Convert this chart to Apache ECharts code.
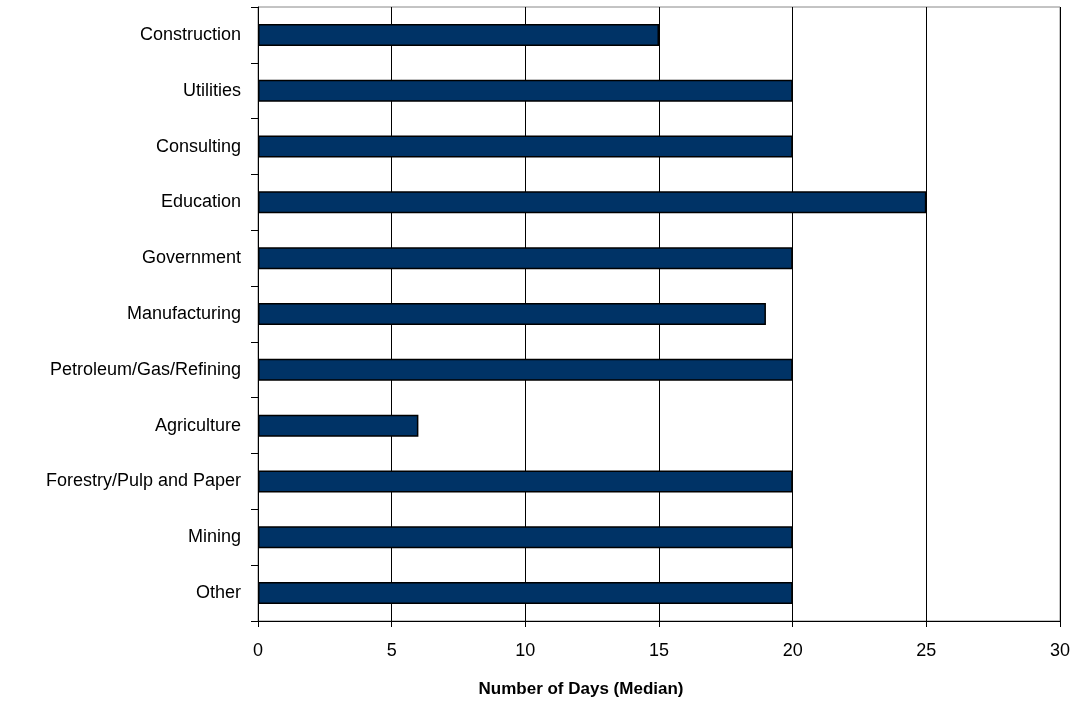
<!DOCTYPE html>
<html><head><meta charset="utf-8">
<script src="https://cdn.jsdelivr.net/npm/echarts@6/dist/echarts.min.js"></script>
<style>html,body{margin:0;padding:0;background:#fff}#c{width:1078px;height:706px}</style>
</head><body><div id="c"></div>
<script>
const categories = ["Construction","Utilities","Consulting","Education","Government","Manufacturing","Petroleum/Gas/Refining","Agriculture","Forestry/Pulp and Paper","Mining","Other"];
const medianDays = [15,20,20,25,20,19,20,6,20,20,20];
const xTicks = [0,5,10,15,20,25,30];
const axisTitle = "Number of Days (Median)";

const chart = echarts.init(document.getElementById('c'), null, {renderer:'canvas'});
chart.setOption({
  animation:false,
  backgroundColor:'#fff',
  grid:{left:258,right:18,top:7,bottom:85,show:true,borderColor:'#888',borderWidth:1,containLabel:false},
  xAxis:{type:'value',min:xTicks[0],max:xTicks[xTicks.length-1],interval:5,
    axisLine:{show:true,lineStyle:{color:'#000',width:1}},
    axisTick:{show:true,length:6,lineStyle:{color:'#000'}},
    axisLabel:{color:'#000',fontFamily:'Liberation Sans',fontSize:18,margin:21},
    splitLine:{show:true,lineStyle:{color:'#000',width:1}}},
  yAxis:{type:'category',data:categories,inverse:true,
    axisLine:{show:true,lineStyle:{color:'#000',width:1}},
    axisTick:{show:true,length:7,lineStyle:{color:'#000'}},
    axisLabel:{color:'#000',fontFamily:'Liberation Sans',fontSize:18,margin:17}},
  graphic:[{type:'text',x:581,y:689,style:{text:axisTitle,fill:'#000',font:'bold 17px "Liberation Sans"',align:'center',verticalAlign:'middle'}}],
  series:[{type:'bar',data:medianDays,barWidth:22,
    itemStyle:{color:'#003366',borderColor:'#000',borderWidth:1.5}}]
});
</script></body></html>
